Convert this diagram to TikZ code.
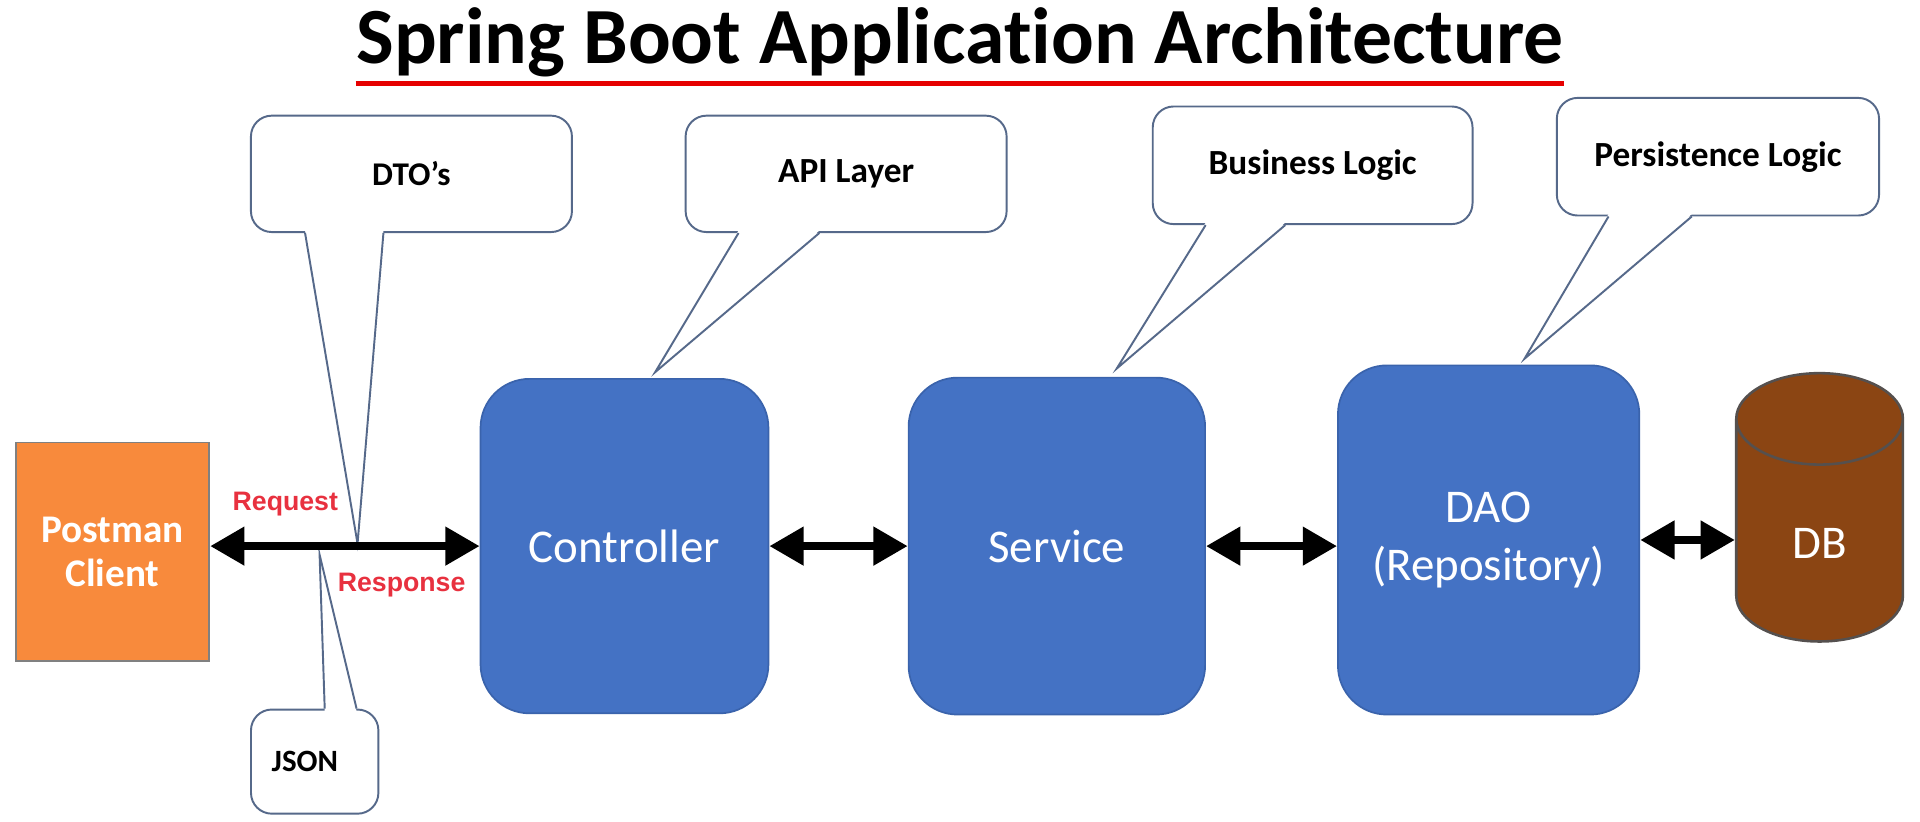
\documentclass[tikz,border=0pt]{standalone}
\usepackage{fontspec}
\setmainfont{Carlito}[RawFeature={-liga;-clig;-calt}]
\newfontfamily\arialfont{Liberation Sans}
\usetikzlibrary{arrows.meta,shapes.geometric,calc,positioning}
\definecolor{layerBlue}{HTML}{4472C4}
\definecolor{layerEdge}{HTML}{3A63AC}
\definecolor{clientOrange}{HTML}{F88A3C}
\definecolor{dbBrown}{HTML}{8B4513}
\definecolor{dbEdge}{HTML}{55504E}
\definecolor{bubbleEdge}{HTML}{56698A}
\definecolor{flowRed}{HTML}{E8313F}
\definecolor{headRed}{HTML}{E60000}
\tikzset{
	title/.style={
		inner sep=0pt,
		anchor=base,
		font=\fontsize{18.5}{22}\selectfont\bfseries
	},
	headline/.style={
		draw=headRed,
		line width=1.15pt
	},
	layer/.style={
		rectangle,
		rounded corners=0.4cm,
		draw=layerEdge,
		fill=layerBlue,
		text=white,
		align=center,
		font=\fontsize{10.9}{13.5}\selectfont
	},
	client/.style={
		rectangle,
		draw=gray,
		fill=clientOrange,
		text=white,
		align=center,
		minimum width=1.58cm,
		minimum height=1.78cm,
		font=\fontsize{9.1}{10.2}\selectfont\bfseries
	},
	store/.style={
		cylinder,
		shape border rotate=90,
		aspect=1.1,
		draw=dbEdge,
		line width=0.6pt,
		fill=dbBrown,
		text=white,
		minimum width=1.36cm,
		minimum height=2.19cm,
		font=\fontsize{10.9}{13}\selectfont
	},
	bubble/.style={
		rectangle,
		rounded corners=0.17cm,
		draw=bubbleEdge,
		line width=0.45pt,
		fill=white,
		font=\fontsize{8.2}{9.8}\selectfont\bfseries
	},
	tail/.style={
		draw=bubbleEdge,
		line width=0.45pt
	},
	flowLabel/.style={
		text=flowRed,
		inner sep=0pt,
		font=\arialfont\fontsize{6.2}{7}\selectfont\bfseries
	},
	link/.style={
		<->,
		line width=0.068cm
	}
}

\begin{document}
\begin{tikzpicture}[x=0.01cm,y=-0.01cm,>={Triangle[length=0.28cm,width=0.3cm]}]
	\path [use as bounding box,fill=white] (0,0) rectangle (1568,671);
	% heading
	\node [title] (head) at (784,52) {Spring Boot Applicat\kern0pt ion Architecture};
	\draw [headline] ($(head.base west)+(0,16)$) -- ($(head.base east)+(0,16)$);
	% layers
	\node [layer,minimum width=2.35cm,minimum height=2.73cm] (ctrl) at (510,446) {Controller};
	\node [client] (post) [left=2.2cm of ctrl,yshift=-0.045cm] {Postman\\Client};
	\node [layer,minimum width=2.42cm,minimum height=2.75cm] (srv) [right=1.13cm of ctrl] {Service};
	\node [layer,minimum width=2.46cm,minimum height=2.85cm] (dao) [right=1.07cm of srv,yshift=0.05cm] {DAO\\(Repository)};
	\node [store] (db) at (1486,444) {DB};
	% callouts
	\node [bubble,minimum width=2.62cm,minimum height=0.95cm,font=\fontsize{7.7}{9}\selectfont\bfseries] (dto) at (336,142) {DTO’s};
	\node [bubble,minimum width=1.04cm,minimum height=0.85cm,font=\fontsize{7.2}{9}\selectfont\bfseries] (json) at (257,622) {JSON\hspace*{0.16cm}};
	\node [bubble,minimum width=2.62cm,minimum height=0.95cm] (api) at (691,142) {API Layer};
	\node [bubble,minimum width=2.61cm,minimum height=0.96cm] (biz) at (1072,135) {Business Logic};
	\node [bubble,minimum width=2.63cm,minimum height=0.96cm] (pers) at (1403,128) {Persistence Logic};
	\coordinate (dtoTip) at (292,444);
	\coordinate (jsonTip) at (261,453);
	\coordinate (apiTip) at (535,304);
	\coordinate (bizTip) at (912,301);
	\coordinate (persTip) at (1245,293);
	\fill [white] ($(dto.south west)+(45,-2)$) -- (dtoTip) -- ($(dto.south west)+(109,-2)$) -- cycle;
	\draw [tail] ($(dto.south west)+(45,0)$) -- (dtoTip) -- ($(dto.south west)+(109,0)$);
	\fill [white] ($(json.north west)+(61,2)$) -- (jsonTip) -- ($(json.north west)+(87,2)$) -- cycle;
	\draw [tail] ($(json.north west)+(61,0)$) -- (jsonTip) -- ($(json.north west)+(87,0)$);
	\fill [white] ($(api.south west)+(44,-2)$) -- (apiTip) -- ($(api.south west)+(110,-2)$) -- cycle;
	\draw [tail] ($(api.south west)+(44,0)$) -- (apiTip) -- ($(api.south west)+(110,0)$);
	\fill [white] ($(biz.south west)+(44,-2)$) -- (bizTip) -- ($(biz.south west)+(109,-2)$) -- cycle;
	\draw [tail] ($(biz.south west)+(44,0)$) -- (bizTip) -- ($(biz.south west)+(109,0)$);
	\fill [white] ($(pers.south west)+(43,-2)$) -- (persTip) -- ($(pers.south west)+(111,-2)$) -- cycle;
	\draw [tail] ($(pers.south west)+(43,0)$) -- (persTip) -- ($(pers.south west)+(111,0)$);
	% request / response
	\node [flowLabel] (req) at (233,412) {Request};
	\node [flowLabel] (resp) at (328,478) {Response};
	\draw [link] (ctrl.west -| post.east) -- (ctrl.west);
	\draw [link] (ctrl.east) -- (srv.west);
	\draw [link] (srv.east) -- (srv.east -| dao.west);
	\draw [link] (dao.east) -- (dao.east -| db.west);
\end{tikzpicture}
\end{document}
